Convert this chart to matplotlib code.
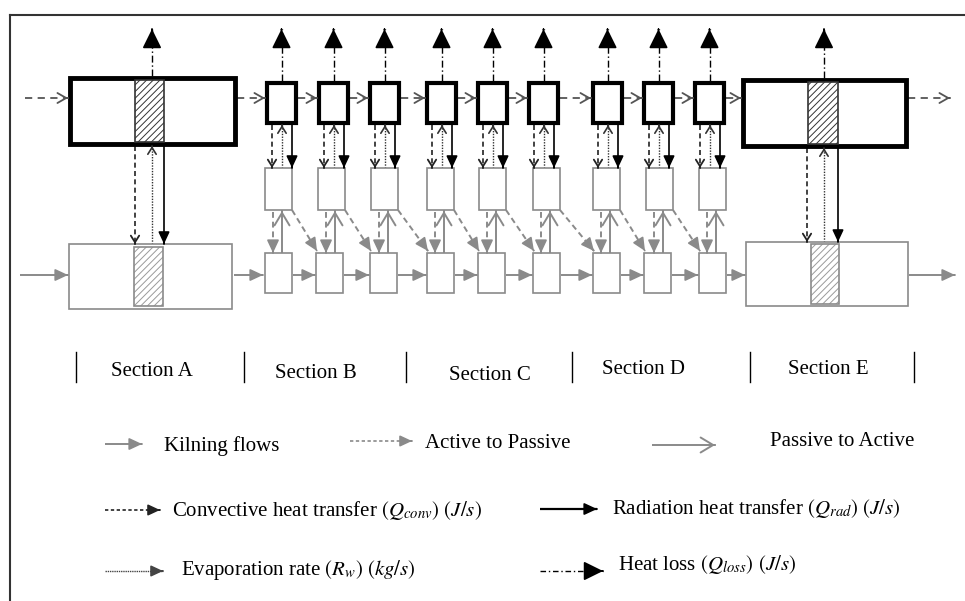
import matplotlib
matplotlib.use("Agg")
import matplotlib.pyplot as plt
from matplotlib.patches import Rectangle

plt.rcParams['font.family'] = ['Liberation Serif', 'DejaVu Serif']
plt.rcParams['mathtext.fontset'] = 'stix'
plt.rcParams['hatch.linewidth'] = 0.7

# Layout of the kiln diagram (pixel coordinates of the reference image)
top_left = [267, 319, 370, 427, 478, 529, 593, 644, 695]      # active small cells
mid_left = [265, 318, 371, 427, 479, 533, 593, 646, 699]      # passive small cells (upper)
bot_left = [265, 316, 370, 427, 478, 533, 593, 644, 699]      # passive small cells (lower)
big_active = [(70, 235), (743, 906)]
big_passive = [(69, 232), (746, 908)]
big_hatch = [(135, 164), (808, 838)]

section_names = ["Section A", "Section B", "Section C", "Section D", "Section E"]
section_x = [152, 316, 490, 643, 828]
section_y = [371, 373, 375, 370, 370]
divider_x = [76, 244, 406, 572, 750, 914]

BLACK = "#000000"
GREY = "#8a8a8a"
DGREY = "#555555"

FILLED = '-|>,head_length=0.6,head_width=0.28'
BIG = '-|>,head_length=0.85,head_width=0.42'
OPEN_S = '->,head_length=0.4,head_width=0.25'
GAS = '->,head_length=0.35,head_width=0.2'

fig = plt.figure(figsize=(9.65, 6.01), dpi=100)
ax = fig.add_axes([0, 0, 1, 1])
ax.set_xlim(0, 965)
ax.set_ylim(601, 0)
ax.axis('off')


def head(x0, y0, x1, y1, style, color, scale, lw=1.0):
    ax.annotate('', xy=(x1, y1), xytext=(x0, y0),
                arrowprops=dict(arrowstyle=style, color=color, lw=lw,
                                shrinkA=0, shrinkB=0, mutation_scale=scale))


def arrow(x0, y0, x1, y1, ls, color, style, scale, lw=1.2, hlw=1.2):
    ax.plot([x0, x1], [y0, y1], ls=ls, color=color, lw=lw, solid_capstyle='butt')
    dx, dy = x1 - x0, y1 - y0
    n = (dx ** 2 + dy ** 2) ** 0.5
    head(x1 - dx / n * 0.5, y1 - dy / n * 0.5, x1, y1, style, color, scale, hlw)


def box(x0, y0, x1, y1, color, lw):
    ax.add_patch(Rectangle((x0, y0), x1 - x0, y1 - y0, fill=True, facecolor='white',
                           edgecolor=color, lw=lw, zorder=3))


def hatch(x0, y0, x1, y1, color, edge):
    ax.add_patch(Rectangle((x0, y0), x1 - x0, y1 - y0, facecolor='white',
                           edgecolor=color, hatch='/////', lw=0, zorder=4))
    ax.add_patch(Rectangle((x0, y0), x1 - x0, y1 - y0, fill=False,
                           edgecolor=edge, lw=1.2, zorder=5))


# frame
ax.plot([10, 965], [15, 15], color='#333333', lw=1.5)
ax.plot([10, 10], [15, 601], color='#333333', lw=1.5)

# ---- top (active) row ----
TY0, TY1 = 83, 123
box(big_active[0][0], 78, big_active[0][1], 144, BLACK, 3.5)
box(big_active[1][0], 80, big_active[1][1], 146, BLACK, 3.5)
hatch(big_hatch[0][0], 80, big_hatch[0][1], 142, '#333333', '#333333')
hatch(big_hatch[1][0], 82, big_hatch[1][1], 144, '#333333', '#333333')
for xl in top_left:
    box(xl, TY0, xl + 29, TY1, BLACK, 3)

# gas flow along top row (dashed, open head)
pairs = [(25, 68), (237, 265)]
for a, b in zip(top_left[:-1], top_left[1:]):
    pairs.append((a + 31, b - 2))
pairs.append((top_left[-1] + 31, big_active[1][0] - 2))
pairs.append((big_active[1][1] + 2, 950))
for a, b in pairs:
    arrow(a, 98, b, 98, (0, (4, 3)), DGREY, GAS, 18, lw=1.3, hlw=1.3)

# heat loss arrows (dash-dot, big filled head)
loss_x = [152] + [xl + 14.5 for xl in top_left] + [824]
loss_y0 = [78] + [TY0] * 9 + [80]
for x, y0 in zip(loss_x, loss_y0):
    arrow(x, y0 - 2, x, 29, (0, (5, 2, 1, 2)), BLACK, BIG, 14, lw=1.0)

# ---- middle and bottom (passive) rows ----
MY0, MY1 = 168, 210
BY0, BY1 = 253, 293
for xl in mid_left:
    box(xl, MY0, xl + 27, MY1, GREY, 1.2)
for xl in bot_left:
    box(xl, BY0, xl + 27, BY1, GREY, 1.2)
box(big_passive[0][0], 244, big_passive[0][1], 309, GREY, 1.2)
box(big_passive[1][0], 242, big_passive[1][1], 306, GREY, 1.2)
hatch(big_hatch[0][0] - 1, 247, big_hatch[0][1] - 1, 306, '#9a9a9a', GREY)
hatch(big_hatch[1][0] + 3, 244, big_hatch[1][1] + 1, 304, '#9a9a9a', GREY)

# kilning flow along bottom row
kpairs = [(20, 68), (234, 263)]
for a, b in zip(bot_left[:-1], bot_left[1:]):
    kpairs.append((a + 28, b - 1))
kpairs.append((bot_left[-1] + 28, big_passive[1][0] - 1))
kpairs.append((big_passive[1][1] + 1, 955))
for a, b in kpairs:
    arrow(a, 275, b, 275, '-', GREY, FILLED, 13, lw=1.4)

# heat / mass exchange between top cells and upper passive cells
for xl in top_left:
    arrow(xl + 5, TY1 + 2, xl + 5, MY0, (0, (3, 2)), '#222222', OPEN_S, 12, lw=1.2, hlw=1.3)
    arrow(xl + 15, MY0, xl + 15, TY1 + 2, (0, (1, 1)), '#333333', OPEN_S, 12, lw=1.0, hlw=1.2)
    arrow(xl + 25, TY1 + 2, xl + 25, MY0, '-', BLACK, FILLED, 12, lw=1.2)

for (x_conv, x_evap, x_rad), y0, y1 in [((135, 152, 164), 146, 244), ((807, 824, 838), 148, 242)]:
    arrow(x_conv, y0, x_conv, y1, (0, (3, 2)), '#222222', OPEN_S, 12, lw=1.2, hlw=1.3)
    arrow(x_evap, y1, x_evap, y0, (0, (1, 1)), '#333333', OPEN_S, 12, lw=1.0, hlw=1.2)
    arrow(x_rad, y0, x_rad, y1, '-', BLACK, FILLED, 12, lw=1.2)

# between upper and lower passive cells
for i, xl in enumerate(mid_left):
    arrow(xl + 8, MY1 + 2, xl + 8, BY0, (0, (3, 2)), GREY, FILLED, 13, lw=1.4)
    arrow(xl + 17, BY0, xl + 17, MY1 + 1, '-', GREY, '->,head_length=0.5,head_width=0.3', 18, lw=1.4, hlw=1.4)
    if i < len(mid_left) - 1:
        arrow(xl + 27, MY1, bot_left[i + 1] + 1, BY0 - 2, (0, (3, 2)), GREY, FILLED, 13, lw=1.4)

# ---- section labels ----
FS = 15
for x in divider_x:
    ax.plot([x, x], [352, 382], color=BLACK, lw=1.0)
for name, x, y in zip(section_names, section_x, section_y):
    ax.text(x, y, name, ha='center', va='center', fontsize=FS)

# ---- legend ----
arrow(105, 444, 142, 444, '-', GREY, FILLED, 13, lw=1.4)
ax.text(164, 446, "Kilning flows", va='center', fontsize=FS)
arrow(350, 441, 412, 441, (0, (2, 1.5)), GREY, FILLED, 12, lw=1.2)
ax.text(425, 443, "Active to Passive", va='center', fontsize=FS)
arrow(652, 445, 715, 445, '-', GREY, '->,head_length=0.5,head_width=0.3', 18, lw=1.4, hlw=1.4)
ax.text(770, 442, "Passive to Active", va='center', fontsize=FS)

arrow(105, 510, 160, 510, (0, (2, 1.5)), '#222222', FILLED, 12, lw=1.2)
ax.text(172, 510, r"Convective heat transfer $(Q_{conv})$ $(J/s)$", va='center', fontsize=FS)
arrow(540, 509, 597, 509, '-', BLACK, FILLED, 13, lw=1.6)
ax.text(612, 508, r"Radiation heat transfer $(Q_{rad})$ $(J/s)$", va='center', fontsize=FS)

arrow(105, 571, 163, 571, (0, (1, 0.6)), '#444444', FILLED, 12, lw=1.0)
ax.text(181, 570, r"Evaporation rate $(R_w)$ $(kg/s)$", va='center', fontsize=FS)
arrow(540, 571, 603, 571, (0, (4, 2, 1, 2)), BLACK, BIG, 14, lw=1.0)
ax.text(618, 565, r"Heat loss $(Q_{loss})$ $(J/s)$", va='center', fontsize=FS)

fig.savefig("out.png", dpi=100)
